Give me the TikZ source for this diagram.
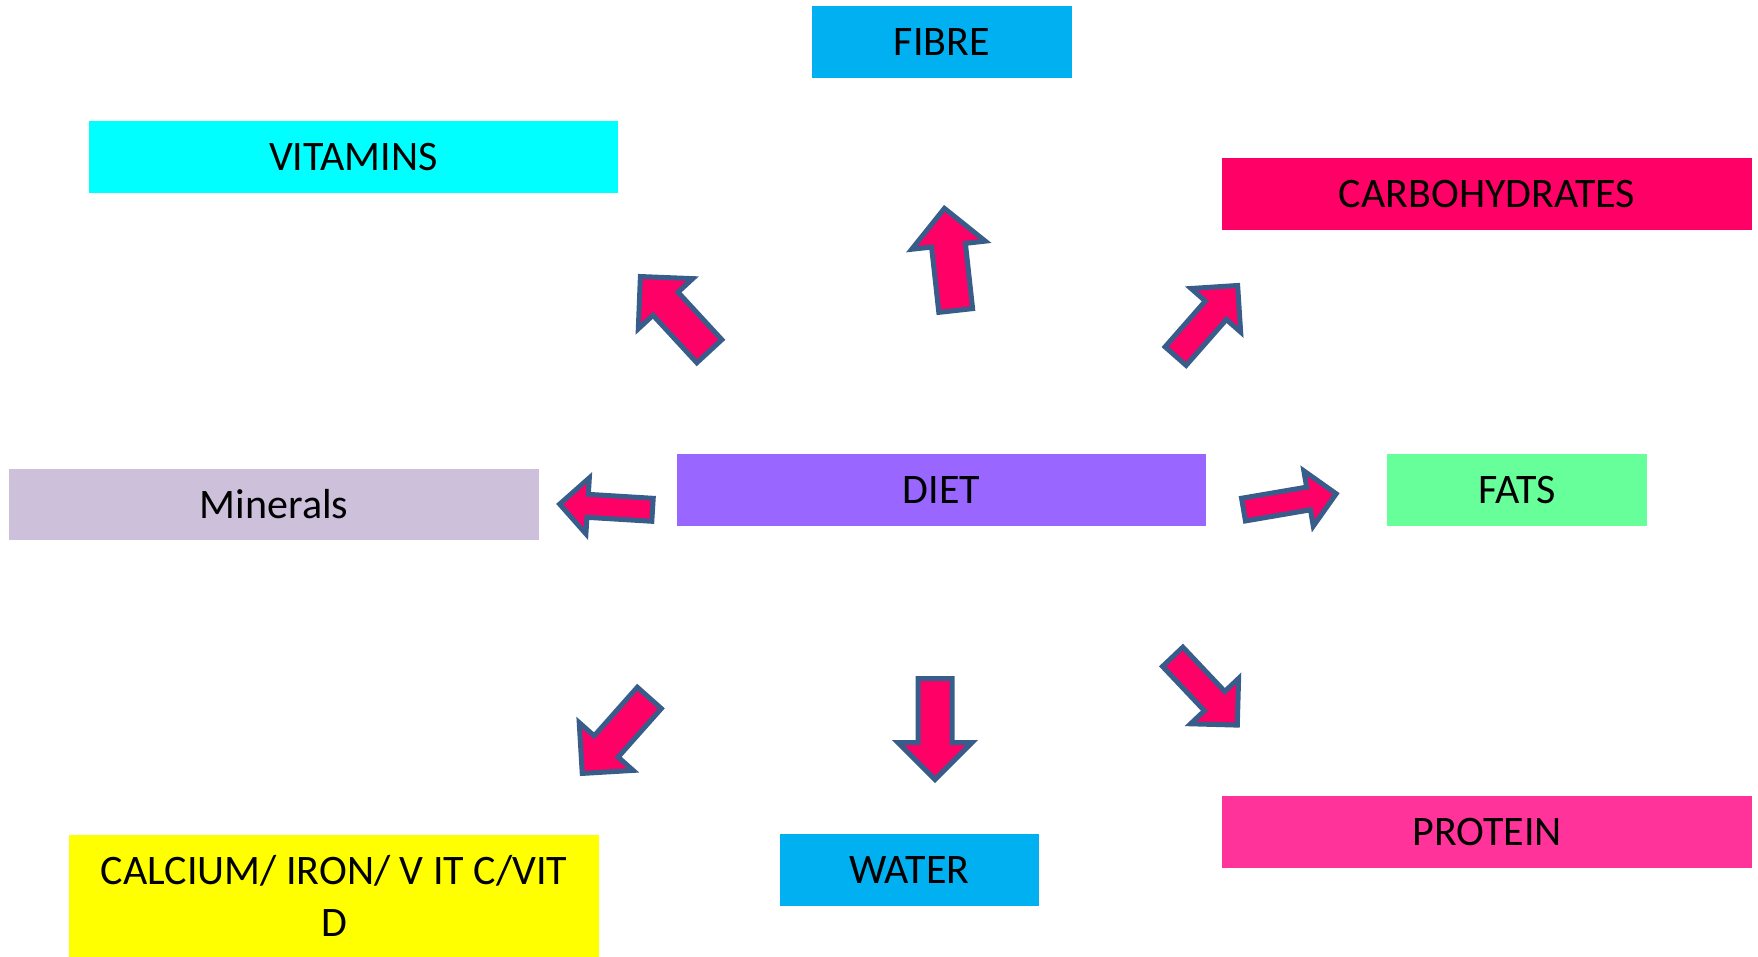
\documentclass[tikz,border=0pt]{standalone}
\usepackage{fontspec}
\setmainfont{Carlito}
\definecolor{fibreblue}{HTML}{00B0F0}
\definecolor{vitcyan}{HTML}{00FFFF}
\definecolor{carbred}{HTML}{FF0066}
\definecolor{minlilac}{HTML}{CCC0DA}
\definecolor{dietviolet}{HTML}{9966FF}
\definecolor{fatgreen}{HTML}{66FF99}
\definecolor{calyellow}{HTML}{FFFF00}
\definecolor{protpink}{HTML}{FF3399}
\definecolor{arrowfill}{HTML}{FF0066}
\definecolor{arrowline}{HTML}{385D8A}

% block arrow: name, tail x, tail y, angle, length, shaft half-width, head half-width
\newcommand\dietarrow[7]{%
  \coordinate (#1) at (#2,#3);
  \begin{scope}[shift={(#1)}, rotate=#4]
    \draw[arrowbody] (0,-#6) -- ({#5-#7},-#6) -- ({#5-#7},-#7) -- (#5,0)
      -- ({#5-#7},#7) -- ({#5-#7},#6) -- (0,#6) -- cycle;
  \end{scope}}

\begin{document}
\begin{tikzpicture}[x=1pt, y=-1pt,
  box/.style={rectangle, inner sep=0pt, draw=none, text=black,
    font=\fontsize{42}{52}\selectfont, align=center},
  arrowbody/.style={fill=arrowfill, draw=arrowline, line width=5pt, line join=miter}]
\useasboundingbox (0,0) rectangle (1758,957);

% nutrient boxes
\node[box, fill=fibreblue, minimum width=260, minimum height=72] (fibre) at (942,42.5) {FIBRE};
\node[box, fill=vitcyan, minimum width=529, minimum height=72] (vitamins) at (353.5,157) {VITAMINS};
\node[box, fill=carbred, minimum width=530, minimum height=72] (carbs) at (1487,194) {CARBOHYDRATES};
\node[box, fill=minlilac, minimum width=530, minimum height=71] (minerals) at (274,504.5) {Minerals};
\node[box, fill=dietviolet, minimum width=529, minimum height=72] (diet) at (941.5,490) {DIET};
\node[box, fill=fatgreen, minimum width=260, minimum height=72] (fats) at (1517,490) {FATS};
\node[box, fill=calyellow, minimum width=530, minimum height=122] (calcium) at (334,896) {CALCIUM/ IRON/ V IT C/VIT\\D};
\node[box, fill=fibreblue, minimum width=259, minimum height=72] (water) at (909.5,870) {WATER};
\node[box, fill=protpink, minimum width=530, minimum height=72] (protein) at (1487,832) {PROTEIN};

% arrows out of DIET
\dietarrow{a-vit}{709.3}{351.2}{132.7}{101.6}{17}{37}
\dietarrow{a-fibre}{955.7}{310.5}{96.3}{102.7}{17}{37}
\dietarrow{a-carb}{1175.6}{356.1}{48.7}{94}{14}{33}
\dietarrow{a-min}{652.5}{509.8}{176.5}{93}{11.5}{28}
\dietarrow{a-fat}{1243.5}{509.6}{9.7}{94}{11.5}{28}
\dietarrow{a-cal}{649.3}{697.9}{228.4}{101}{16}{36}
\dietarrow{a-water}{935}{678.5}{-90}{101}{17}{37}
\dietarrow{a-prot}{1172.7}{656.8}{-46.6}{94}{14}{33}
\end{tikzpicture}
\end{document}
